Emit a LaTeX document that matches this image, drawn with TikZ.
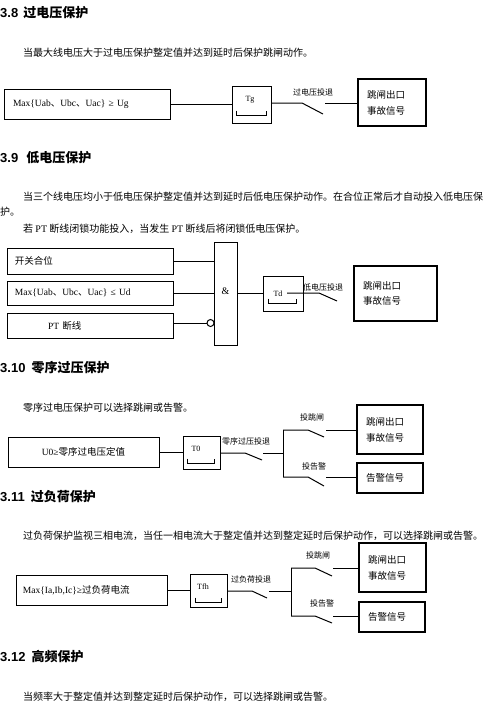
\documentclass[tikz,border=0pt]{standalone}
\usepackage{fontspec}
\setmainfont{Noto Sans CJK SC}
\newfontfamily\zhf{Noto Sans CJK SC}
\newfontfamily\lat{Liberation Serif}
\newfontfamily\hsans{Liberation Sans}
\usetikzlibrary{calc}
\tikzset{
  wire/.style={line width=1pt},
  box/.style={draw, line width=1pt, inner ysep=0pt, font=\lat\fontsize{9.5}{11}\selectfont},
  obox/.style={draw, line width=1.6pt, inner ysep=0pt, align=left, font=\fontsize{9.5}{16}\selectfont},
  tbox/.style={draw, line width=1pt, inner sep=0pt},
  ttext/.style={font=\lat\fontsize{8}{9}\selectfont, inner sep=0pt},
  lbl/.style={font=\fontsize{8}{9}\selectfont, inner sep=0pt},
  head/.style={font=\bfseries\fontsize{13}{15}\selectfont, inner sep=0pt, anchor=west},
  body/.style={font=\fontsize{10}{12}\selectfont, inner sep=0pt, anchor=west}
}
\begin{document}
\begin{tikzpicture}[x=1pt,y=-1pt]
\useasboundingbox (0,0) rectangle (488,710);

% ---------- 3.8
\node[head] (h1) at (0,13) {{\hsans 3.8}\hspace{5pt}过电压保护};
\node[body] (b1) at (23,53) {当最大线电压大于过电压保护整定值并达到延时后保护跳闸动作。};
\node[box, minimum height=30pt, text width=148pt, inner xsep=9pt, align=left] (a1) at (87,104) {Max\{Uab{\zhf 、}Ubc{\zhf 、}Uac\} ≥ Ug};
\node[tbox, minimum width=39pt, minimum height=37pt] (tg) at (251.5,104.5) {};
\node[ttext] (tgl) at (250,100) {Tg};
\draw[wire] ($(tg.south west)+(5,-13)$) -- ++(0,5) -- ++(30,0) -- ++(0,-5);
\node[obox, minimum height=47pt, text width=50pt, inner xsep=9pt] (o1) at (392,102.5) {跳闸出口\\事故信号};
\coordinate (s1a) at (302,103);
\coordinate (s1b) at (323,114);
\coordinate (s1c) at (325,103);
\draw[wire] (a1.east) -- (a1.east -| tg.west);
\draw[wire] (tg.east |- s1a) -- (s1a) -- (s1b);
\draw[wire] (s1c) -- (s1c -| o1.west);
\node[lbl] (l1) at (313,92) {过电压投退};

% ---------- 3.9
\node[head] (h2) at (0,158) {{\hsans 3.9}\hspace{8pt}低电压保护};
\node[body] (b2a) at (23,197) {当三个线电压均小于低电压保护整定值并达到延时后低电压保护动作。在合位正常后才自动投入低电压保};
\node[body] (b2b) at (0,212) {护。};
\node[body] (b2c) at (23,229) {若 {\lat PT} 断线闭锁功能投入，当发生 {\lat PT} 断线后将闭锁低电压保护。};
\node[box, minimum height=26pt, text width=150pt, inner xsep=8pt, align=left] (k) at (90,261) {{\zhf 开关合位}};
\node[box, minimum height=24pt, text width=150pt, inner xsep=8pt, align=left] (m) at (90,293) {Max\{Uab{\zhf 、}Ubc{\zhf 、}Uac\} ≤ Ud};
\node[box, minimum height=25pt, text width=84pt, inner xsep=41pt, align=left] (p) at (90,325.5) {PT {\zhf 断线}};
\node[tbox, minimum width=23pt, minimum height=103pt, font=\lat\fontsize{10}{12}\selectfont] (and) at (225.5,293.5) {\raisebox{4pt}{\&}};
\node[circle, draw, line width=1pt, minimum size=7pt, inner sep=0pt] (inv) at (210.5,323) {};
\draw[wire] (k.east) -- (k.east -| and.west);
\draw[wire] (m.east) -- (m.east -| and.west);
\draw[wire] (p.east |- inv.west) -- (inv.west);
\node[tbox, minimum width=40pt, minimum height=35pt] (td) at (283,293.5) {};
\draw[wire] (and.east |- td.west) -- (td.west);
\node[ttext] (tdl) at (278,294) {Td};
\draw[wire] ($(td.south west)+(6,-13)$) -- ++(0,5) -- ++(28,0) -- ++(0,-5);
\coordinate (s2o) at (287,293);
\coordinate (s2a) at (319,293);
\coordinate (s2b) at (337,301);
\draw[wire] (s2o) -- (s2a) -- (s2b);
\node[lbl] (l2) at (323,287) {低电压投退};
\node[obox, minimum height=55pt, text width=65pt, inner xsep=9pt, font=\fontsize{9.5}{15.5}\selectfont] (o2) at (395.5,293.5) {跳闸出口\\事故信号};

% ---------- 3.10
\node[head] (h3) at (0,368) {{\hsans 3.10}\hspace{6pt}零序过压保护};
\node[body] (b3) at (23,408) {零序过电压保护可以选择跳闸或告警。};
\node[box, minimum width=151pt, minimum height=30pt] (u) at (83.5,452) {U0≥{\zhf 零序过电压定值}};
\node[tbox, minimum width=37pt, minimum height=33pt] (t0) at (201.5,452.5) {};
\node[ttext] (t0l) at (196,449) {T0};
\draw[wire] ($(t0.south west)+(5,-11)$) -- ++(0,5) -- ++(27,0) -- ++(0,-5);
\draw[wire] (u.east) -- (u.east -| t0.west);
\node[obox, minimum height=49pt, text width=48pt, inner xsep=9pt] (o3a) at (390,429.5) {跳闸出口\\事故信号};
\node[obox, minimum height=30pt, text width=48pt, inner xsep=9pt] (o3b) at (390,478) {告警信号};
\coordinate (s3a) at (245,453);
\coordinate (s3b) at (262,460);
\coordinate (s3c) at (263,453);
\coordinate (j3) at (283,453);
\coordinate (j3t) at (283,430);
\coordinate (j3b) at (283,477);
\coordinate (s3ta) at (308,430);
\coordinate (s3tb) at (324,437);
\coordinate (s3tc) at (326,430);
\coordinate (s3ba) at (308,477);
\coordinate (s3bb) at (324,486);
\coordinate (s3bc) at (326,477);
\draw[wire] (t0.east |- s3a) -- (s3a) -- (s3b);
\draw[wire] (s3c) -- (j3);
\draw[wire] (j3t) -- (j3b);
\draw[wire] (j3t) -- (s3ta) -- (s3tb);
\draw[wire] (s3tc) -- (s3tc -| o3a.west);
\draw[wire] (j3b) -- (s3ba) -- (s3bb);
\draw[wire] (s3bc) -- (s3bc -| o3b.west);
\node[lbl] (l3) at (246,441) {零序过压投退};
\node[lbl] (l3t) at (312,417) {投跳闸};
\node[lbl] (l3b) at (314,466) {投告警};

% ---------- 3.11
\node[head] (h4) at (0,497) {{\hsans 3.11}\hspace{6pt}过负荷保护};
\node[body] (b4) at (23,536) {过负荷保护监视三相电流，当任一相电流大于整定值并达到整定延时后保护动作，可以选择跳闸或告警。};
\node[box, minimum height=30pt, text width=137pt, inner xsep=7pt, align=left] (f) at (91.5,590) {Max\{Ia,Ib,Ic\}≥{\zhf 过负荷电流}};
\node[tbox, minimum width=37pt, minimum height=33pt] (tfh) at (208.5,590.5) {};
\node[ttext] (tfhl) at (203,587) {Tfh};
\draw[wire] ($(tfh.south west)+(6,-10)$) -- ++(0,5) -- ++(26,0) -- ++(0,-5);
\draw[wire] (f.east) -- (f.east -| tfh.west);
\node[obox, minimum height=49pt, text width=49pt, inner xsep=9pt] (o4a) at (392.5,567.5) {跳闸出口\\事故信号};
\node[obox, minimum height=30pt, text width=48pt, inner xsep=9pt] (o4b) at (392,617) {告警信号};
\coordinate (s4a) at (252,591);
\coordinate (s4b) at (267,598);
\coordinate (s4c) at (269,591);
\coordinate (j4) at (291,591);
\coordinate (j4t) at (291,568);
\coordinate (j4b) at (291,616);
\coordinate (s4ta) at (315,568);
\coordinate (s4tb) at (332,576);
\coordinate (s4tc) at (333,568);
\coordinate (s4ba) at (315,616);
\coordinate (s4bb) at (332,623);
\coordinate (s4bc) at (333,616);
\draw[wire] (tfh.east |- s4a) -- (s4a) -- (s4b);
\draw[wire] (s4c) -- (j4);
\draw[wire] (j4t) -- (j4b);
\draw[wire] (j4t) -- (s4ta) -- (s4tb);
\draw[wire] (s4tc) -- (s4tc -| o4a.west);
\draw[wire] (j4b) -- (s4ba) -- (s4bb);
\draw[wire] (s4bc) -- (s4bc -| o4b.west);
\node[lbl] (l4) at (251,579) {过负荷投退};
\node[lbl] (l4t) at (318,555) {投跳闸};
\node[lbl] (l4b) at (322,603) {投告警};

% ---------- 3.12
\node[head] (h5) at (0,657) {{\hsans 3.12}\hspace{6pt}高频保护};
\node[body] (b5) at (23,697) {当频率大于整定值并达到整定延时后保护动作，可以选择跳闸或告警。};
\end{tikzpicture}
\end{document}
